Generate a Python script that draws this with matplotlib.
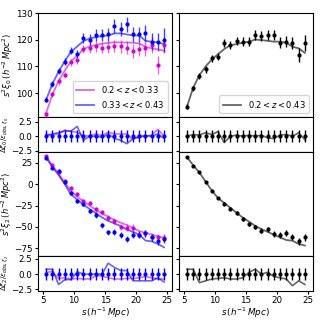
import numpy as np
import matplotlib
matplotlib.use("Agg")
import matplotlib.pyplot as plt

s = [5.5 + i for i in range(20)]

# monopole, 0.2<z<0.33 (magenta)
xi0_m = [92.0, 99.6, 104.4, 106.9, 111.5, 112.3, 116.6, 116.9, 117.5, 117.1,
         117.4, 117.6, 117.6, 117.1, 115.9, 116.4, 116.8, 118.0, 110.5, 118.0]
xi0_m_err = [1.0, 1.0, 1.2, 1.2, 1.3, 1.4, 1.6, 1.8, 2.0, 2.0,
             2.2, 2.3, 2.4, 2.5, 2.6, 2.6, 2.8, 3.0, 3.5, 3.0]
mod0_m = [92.5, 99.5, 104.5, 108.5, 112.0, 114.0, 116.5, 117.5, 118.0, 118.6,
          118.8, 119.1, 119.0, 119.0, 118.9, 118.6, 117.4, 116.8, 116.4, 115.9]
# monopole, 0.33<z<0.43 (blue)
xi0_b = [97.5, 103.4, 108.4, 111.8, 115.9, 114.6, 120.6, 120.0, 121.9, 121.8,
         122.1, 125.1, 123.9, 125.9, 122.1, 122.1, 122.6, 119.3, 119.3, 120.1]
xi0_b_err = [1.0, 1.0, 1.2, 1.3, 1.4, 1.5, 1.8, 2.0, 2.2, 2.2,
             2.4, 2.6, 2.6, 2.8, 2.8, 2.8, 3.0, 3.2, 3.4, 4.5]
mod0_b = [97.5, 103.5, 108.0, 112.0, 115.5, 117.5, 119.5, 120.5, 121.0, 121.4,
          121.6, 122.4, 122.4, 122.0, 121.6, 121.6, 119.6, 119.3, 119.0, 118.4]
# monopole, combined (black)
xi0_k = [94.9, 101.8, 106.4, 108.9, 113.0, 113.6, 118.9, 118.0, 119.6, 119.3,
         119.3, 121.8, 121.5, 121.8, 121.8, 118.9, 119.3, 118.9, 114.3, 118.9]
xi0_k_err = [1.0, 1.0, 1.0, 1.2, 1.2, 1.3, 1.5, 1.5, 1.6, 1.6,
             1.7, 1.8, 1.8, 2.0, 2.0, 2.0, 2.0, 2.2, 2.5, 3.0]
mod0_k = [94.9, 102.0, 106.7, 110.0, 112.6, 114.6, 116.5, 118.0, 118.4, 118.9,
          119.3, 120.1, 119.9, 119.6, 119.3, 119.3, 118.9, 117.4, 116.8, 115.1]

# quadrupole
xi2_m = [33.0, 23.0, 14.0, 3.8, -4.6, -11.5, -20.0, -22.0, -29.6, -33.0,
         -39.2, -43.0, -50.0, -50.8, -50.8, -59.2, -57.7, -61.5, -62.3, -63.0]
xi2_m_err = [1.5, 1.5, 2.0, 2.0, 2.2, 2.4, 2.5, 2.8, 3.0, 3.0,
             3.3, 3.5, 3.5, 3.8, 4.0, 4.0, 4.2, 4.5, 4.5, 5.0]
mod2_m = [33.0, 22.0, 12.0, 2.0, -8.0, -14.5, -20.0, -25.0, -30.0, -34.5,
          -38.0, -42.0, -45.0, -48.0, -51.0, -55.0, -57.0, -59.0, -61.0, -63.0]
xi2_b = [31.2, 19.6, 15.4, 2.3, -10.4, -20.0, -23.0, -31.5, -36.0, -48.0,
         -56.5, -56.5, -59.2, -64.2, -59.2, -59.2, -57.7, -62.3, -67.0, -64.2]
xi2_b_err = [1.5, 1.5, 2.0, 2.0, 2.2, 2.4, 2.5, 2.8, 3.0, 3.0,
             3.3, 3.5, 3.5, 3.8, 4.0, 4.0, 4.2, 4.5, 4.5, 5.0]
mod2_b = [31.0, 20.0, 11.0, 0.0, -12.0, -18.0, -24.0, -29.0, -34.0, -39.0,
          -43.0, -46.0, -49.0, -53.0, -56.0, -59.0, -66.0, -67.0, -70.0, -74.0]
xi2_k = [31.9, 21.5, 14.6, 2.3, -7.7, -16.0, -23.0, -28.5, -33.5, -40.4,
         -47.0, -50.0, -54.6, -52.7, -58.5, -59.2, -57.0, -61.5, -67.0, -62.3]
xi2_k_err = [1.0, 1.0, 1.2, 1.2, 1.4, 1.5, 1.6, 1.8, 2.0, 2.2,
             2.4, 2.6, 2.8, 3.0, 3.2, 3.3, 3.5, 3.6, 3.8, 4.0]
mod2_k = [31.9, 22.3, 13.8, 3.1, -7.3, -16.2, -21.9, -27.7, -33.5, -39.2,
          -43.8, -48.8, -52.7, -55.8, -59.2, -62.3, -65.4, -66.2, -70.0, -71.9]

# residuals (model - data)/error
res0_m = [0.4, 0.2, 0.4, 1.1, 0.8, 0.7, 0.0, 0.1, 0.4, 0.1,
          0.7, 0.4, 0.4, 0.4, -0.6, 0.2, 0.0, 0.2, 1.2, 0.0]
res0_b = [0.0, 0.4, 0.6, 0.9, 0.9, 1.7, -0.7, 0.0, 0.0, -0.2,
          0.4, -0.4, -0.7, -1.3, -0.4, -0.2, 0.1, 0.0, 0.4, -0.4]
res0_k = [0.0, 0.3, 0.2, 0.6, 0.3, 0.8, -1.1, 0.0, 0.2, 0.0,
          0.2, 0.0, 0.2, -0.3, -0.4, 0.2, 0.3, 0.0, 0.6, -0.6]
res2_m = [0.3, 0.4, -0.7, -0.6, -0.8, -0.7, -0.8, -0.8, -0.3, -0.3,
          -0.6, -0.8, -0.8, -0.7, -0.7, -0.6, -0.4, -0.6, -0.8, -0.8]
res2_b = [0.8, 0.8, -1.7, -0.9, -0.9, 0.4, 0.0, 0.0, 0.0, 0.0,
          1.8, 1.1, 0.6, 0.6, -1.1, -1.1, -1.1, -1.1, -0.6, -1.3]
res2_k = [0.8, 0.8, -1.4, -1.1, -0.8, -0.7, -0.6, -0.8, -0.8, -0.6,
          0.3, 0.8, 0.0, 0.3, -0.4, -0.6, -0.8, -1.9, -1.1, -1.7]

zero = [0.0] * 20
one = [1.0] * 20

lab_m = r'$0.2 < z < 0.33$'
lab_b = r'$0.33 < z < 0.43$'
lab_k = r'$0.2 < z < 0.43$'

FS = 6.3
plt.rcParams['font.size'] = FS
fig = plt.figure(figsize=(3.2, 3.2), dpi=100)
gs = fig.add_gridspec(4, 2, height_ratios=[3, 1, 3, 1], hspace=0, wspace=0.05,
                      left=0.119, right=0.978, top=0.959, bottom=0.092)
axes = [[fig.add_subplot(gs[r, c]) for c in range(2)] for r in range(4)]

MAG = '#d400d4'
BLU = '#0000ff'
eb_kw = dict(fmt='o', ms=2.0, elinewidth=1.0, capsize=0)

# Row 0: monopole
ax = axes[0][0]
ax.errorbar(s, xi0_m, yerr=xi0_m_err, color=MAG, ecolor=(0.83, 0, 0.83, 0.6), **eb_kw)
ax.errorbar(s, xi0_b, yerr=xi0_b_err, color=BLU, ecolor=(0, 0, 1, 0.75), **eb_kw)
ax.plot(s, mod0_m, color=MAG, alpha=0.6, lw=1.3, label=lab_m)
ax.plot(s, mod0_b, color=BLU, alpha=0.6, lw=1.3, label=lab_b)
ax.legend(loc='lower right', fontsize=6, handlelength=2.2, borderpad=0.4, labelspacing=0.4)
ax = axes[0][1]
ax.errorbar(s, xi0_k, yerr=xi0_k_err, color='k', **eb_kw)
ax.plot(s, mod0_k, color='k', alpha=0.6, lw=1.3, label=lab_k)
ax.legend(loc='lower right', fontsize=6, handlelength=2.2, borderpad=0.4)
for a in axes[0]:
    a.set_ylim(91, 130)
    a.set_yticks([100, 110, 120, 130])

# Row 1: residual monopole
ax = axes[1][0]
ax.plot(s, res0_m, color=MAG, alpha=0.6, lw=1.2)
ax.plot(s, res0_b, color=BLU, alpha=0.6, lw=1.2)
ax.errorbar(s, zero, yerr=one, color=BLU, **eb_kw)
ax = axes[1][1]
ax.plot(s, res0_k, color='k', alpha=0.6, lw=1.2)
ax.errorbar(s, zero, yerr=one, color='k', **eb_kw)
for a in axes[1]:
    a.set_ylim(-2.7, 3.3)

# Row 2: quadrupole
ax = axes[2][0]
ax.errorbar(s, xi2_m, yerr=xi2_m_err, color=MAG, ecolor=(0.83, 0, 0.83, 0.6), **eb_kw)
ax.errorbar(s, xi2_b, yerr=xi2_b_err, color=BLU, ecolor=(0, 0, 1, 0.75), **eb_kw)
ax.plot(s, mod2_m, color=MAG, alpha=0.6, lw=1.3)
ax.plot(s, mod2_b, color=BLU, alpha=0.6, lw=1.3)
ax = axes[2][1]
ax.errorbar(s, xi2_k, yerr=xi2_k_err, color='k', **eb_kw)
ax.plot(s, mod2_k, color='k', alpha=0.6, lw=1.3)
for a in axes[2]:
    a.set_ylim(-84, 38)
    a.set_yticks([25, 0, -25, -50, -75])

# Row 3: residual quadrupole
ax = axes[3][0]
ax.plot(s, res2_m, color=MAG, alpha=0.6, lw=1.2)
ax.plot(s, res2_b, color=BLU, alpha=0.6, lw=1.2)
ax.errorbar(s, zero, yerr=one, color=BLU, **eb_kw)
ax = axes[3][1]
ax.plot(s, res2_k, color='k', alpha=0.6, lw=1.2)
ax.errorbar(s, zero, yerr=one, color='k', **eb_kw)
for a in axes[3]:
    a.set_ylim(-2.7, 3.0)

for r in range(4):
    for c in range(2):
        a = axes[r][c]
        a.set_xlim(4.2, 25.8)
        a.set_xticks([5, 10, 15, 20, 25])
        a.tick_params(labelsize=FS, length=2.5, pad=1.5)
        if r < 3:
            a.tick_params(labelbottom=False)
        if c == 1:
            a.tick_params(labelleft=False)
    if r in (1, 3):
        axes[r][0].set_yticks([-2.5, 0.0, 2.5])
        axes[r][1].set_yticks([-2.5, 0.0, 2.5])

axes[0][0].set_ylabel(r'$s^2\xi_0\,(h^{-2}\,Mpc^2)$', fontsize=6, labelpad=0.5)
axes[1][0].set_ylabel(r'$\Delta\xi_0/\epsilon_{obs,\xi_0}$', fontsize=5, labelpad=0.5)
axes[2][0].set_ylabel(r'$s^2\xi_2\,(h^{-2}\,Mpc^2)$', fontsize=6, labelpad=0)
axes[3][0].set_ylabel(r'$\Delta\xi_2/\epsilon_{obs,\xi_2}$', fontsize=5, labelpad=0.5)
for c in range(2):
    axes[3][c].set_xlabel(r'$s\,(h^{-1}\,Mpc)$', fontsize=FS, labelpad=0.5)

fig.savefig('out.png', dpi=100)
